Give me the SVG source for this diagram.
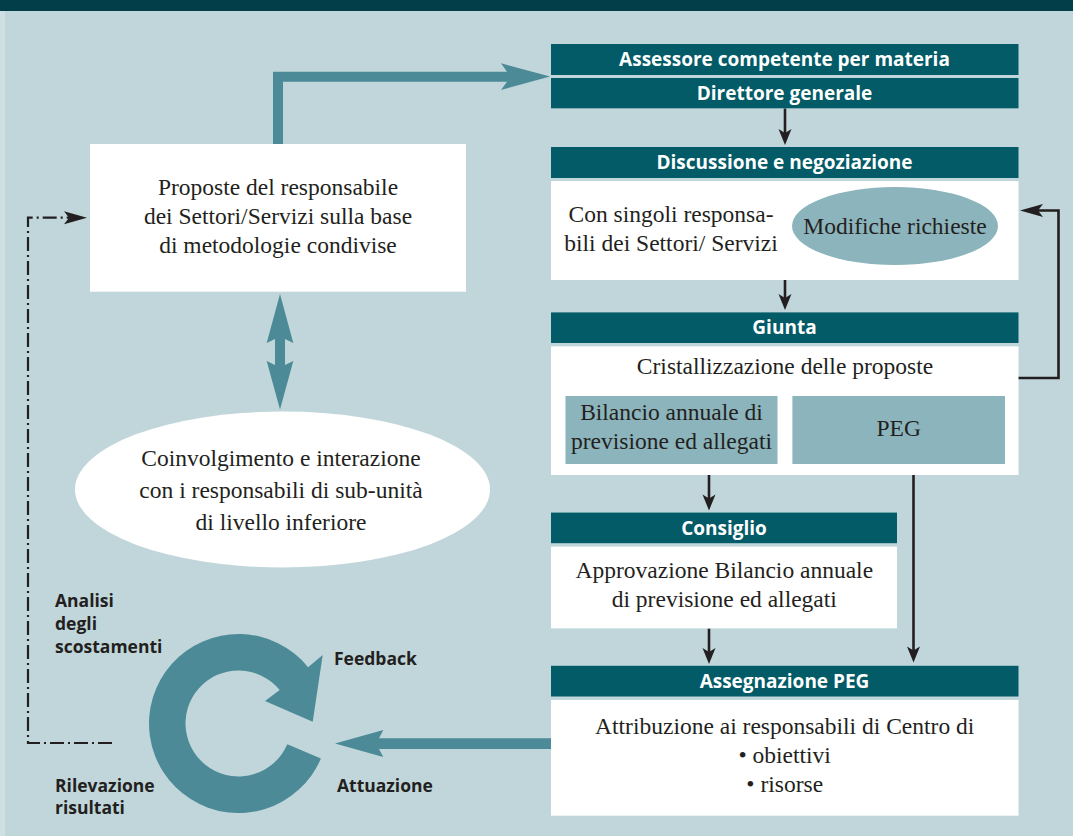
<svg xmlns="http://www.w3.org/2000/svg" width="1073" height="836" viewBox="0 0 1073 836">
  <style>
    .hdr { fill: #025b66; }
    .body { fill: #ffffff; }
    .tint { fill: #8cb4bc; }
    .teal { fill: #4b8a96; }
    .ht { font-family: "Open Sans", "Liberation Sans", sans-serif; font-weight: 700; font-size: 19px; fill: #ffffff; text-anchor: middle; }
    .st { font-family: "Liberation Serif", serif; font-size: 23.5px; fill: #231f20; text-anchor: middle; }
    .lb { font-family: "Open Sans", "Liberation Sans", sans-serif; font-weight: 700; font-size: 17.5px; fill: #231f20; }
    .blk { fill: none; stroke: #231f20; stroke-width: 2.6; }
    .dd { fill: none; stroke: #231f20; stroke-width: 2.2; stroke-dasharray: 14 4 2 4; }
  </style>
  <defs>
    <marker id="ahS" markerUnits="userSpaceOnUse" markerWidth="20" markerHeight="16" viewBox="-18 -8 20 16" refX="-8" refY="0" orient="auto">
      <path d="M0,0 L-16,-6.5 L-12,0 L-16,6.5 Z" fill="#231f20"/>
    </marker>
    <marker id="ahL" markerUnits="userSpaceOnUse" markerWidth="28" markerHeight="16" viewBox="-26 -8 28 16" refX="-10" refY="0" orient="auto">
      <path d="M0,0 L-23,-6.5 L-18,0 L-23,6.5 Z" fill="#231f20"/>
    </marker>
  </defs>

  <!-- page -->
  <rect x="0" y="0" width="1073" height="836" fill="#c0d6da"/>
  <rect x="0" y="0" width="5" height="836" fill="#cfdfe2"/>
  <rect x="0" y="0" width="1073" height="11" fill="#023d4a"/>

  <!-- connectors -->
  <g id="connectors">
    <!-- proposals to assessor -->
    <path class="teal" d="M273,144 V71.7 H507 L501,63.3 L550,76.6 L501,90 L507,81.7 H283 V144 Z"/>
    <!-- two-way link proposals / involvement -->
    <path class="teal" d="M280,294 L293.3,343 L285,339 V365 L293.3,361 L280,409.5 L266.7,361 L275,365 V339 L266.7,343 Z"/>
    <!-- implementation -->
    <path class="teal" d="M551,738.3 H379 L383.3,730 L335,743.6 L383.3,757 L379,749 H551 Z"/>
    <!-- vertical flow -->
    <line class="blk" x1="785" y1="108.5" x2="785" y2="137" marker-end="url(#ahS)"/>
    <line class="blk" x1="785" y1="280" x2="785" y2="302" marker-end="url(#ahS)"/>
    <line class="blk" x1="709" y1="475" x2="709" y2="502.5" marker-end="url(#ahS)"/>
    <line class="blk" x1="709" y1="628.5" x2="709" y2="656" marker-end="url(#ahS)"/>
    <line class="blk" x1="913.5" y1="475" x2="913.5" y2="654.5" marker-end="url(#ahS)"/>
    <!-- requested changes loop -->
    <path class="blk" d="M1018,378 H1058.5 V210.5 H1030" marker-end="url(#ahL)"/>
    <!-- variance analysis -->
    <path class="dd" d="M112,743 H28 V217.7 H77" marker-end="url(#ahL)"/>
  </g>

  <!-- proposals -->
  <g id="proposte">
    <rect class="body" x="90" y="144" width="376" height="147.7"/>
    <text class="st" x="278" y="195">Proposte del responsabile</text>
    <text class="st" x="278" y="224.3">dei Settori/Servizi sulla base</text>
    <text class="st" x="278" y="253">di metodologie condivise</text>
  </g>

  <!-- involvement -->
  <g id="coinvolgimento">
    <ellipse class="body" cx="282.5" cy="489.5" rx="207.5" ry="78"/>
    <text class="st" x="281" y="466">Coinvolgimento e interazione</text>
    <text class="st" x="281" y="498">con i responsabili di sub-unità</text>
    <text class="st" x="281" y="530">di livello inferiore</text>
  </g>

  <!-- assessor -->
  <g id="assessore">
    <rect class="hdr" x="551" y="44" width="467.5" height="31"/>
    <text class="ht" x="784.5" y="66">Assessore competente per materia</text>
  </g>

  <!-- general manager -->
  <g id="direttore">
    <rect class="hdr" x="551" y="78" width="467.5" height="30.3"/>
    <text class="ht" x="784.5" y="99.5">Direttore generale</text>
  </g>

  <!-- discussion -->
  <g id="discussione">
    <rect class="hdr" x="551" y="147" width="467.5" height="31"/>
    <text class="ht" x="784.5" y="169">Discussione e negoziazione</text>
    <rect class="body" x="551" y="181" width="467.5" height="99"/>
    <text class="st" x="671" y="222">Con singoli responsa-</text>
    <text class="st" x="671" y="250.5">bili dei Settori/ Servizi</text>
    <ellipse class="tint" cx="895" cy="226" rx="103" ry="39"/>
    <text class="st" x="895" y="234">Modifiche richieste</text>
  </g>

  <!-- executive board -->
  <g id="giunta">
    <rect class="hdr" x="551" y="312.4" width="467.5" height="30.6"/>
    <text class="ht" x="784.5" y="334">Giunta</text>
    <rect class="body" x="551" y="346.4" width="467.5" height="128.6"/>
    <text class="st" x="785" y="373.5">Cristallizzazione delle proposte</text>
    <rect class="tint" x="565.5" y="396" width="212" height="68"/>
    <text class="st" x="671.5" y="420">Bilancio annuale di</text>
    <text class="st" x="671.5" y="449">previsione ed allegati</text>
    <rect class="tint" x="792.4" y="396" width="212.6" height="68"/>
    <text class="st" x="898.7" y="436">PEG</text>
  </g>

  <!-- council -->
  <g id="consiglio">
    <rect class="hdr" x="551" y="512.6" width="346" height="30.6"/>
    <text class="ht" x="724" y="534.5">Consiglio</text>
    <rect class="body" x="551" y="546.6" width="346" height="81.8"/>
    <text class="st" x="724.3" y="578">Approvazione Bilancio annuale</text>
    <text class="st" x="724.3" y="607">di previsione ed allegati</text>
  </g>

  <!-- PEG assignment -->
  <g id="assegnazione">
    <rect class="hdr" x="551" y="665.8" width="467.5" height="30.7"/>
    <text class="ht" x="784.5" y="687.5">Assegnazione PEG</text>
    <rect class="body" x="551" y="700" width="467.5" height="115.7"/>
    <text class="st" x="784.7" y="734">Attribuzione ai responsabili di Centro di</text>
    <text class="st" x="784.7" y="763">• obiettivi</text>
    <text class="st" x="784.7" y="792">• risorse</text>
  </g>

  <!-- control cycle -->
  <g id="ciclo">
    <path class="teal" d="M320.9,758.5 A89.5,89.5 0 1 1 308.1,667.2 L322.7,655 L312.7,721.7 L265,701 L279.7,690.1 A53,53 0 1 0 287.3,744.2 Z"/>
    <text class="lb" x="55" y="607">Analisi</text>
    <text class="lb" x="55" y="630">degli</text>
    <text class="lb" x="55" y="653">scostamenti</text>
    <text class="lb" x="334" y="665">Feedback</text>
    <text class="lb" x="55" y="792">Rilevazione</text>
    <text class="lb" x="55" y="814">risultati</text>
    <text class="lb" x="337" y="792">Attuazione</text>
  </g>
</svg>
